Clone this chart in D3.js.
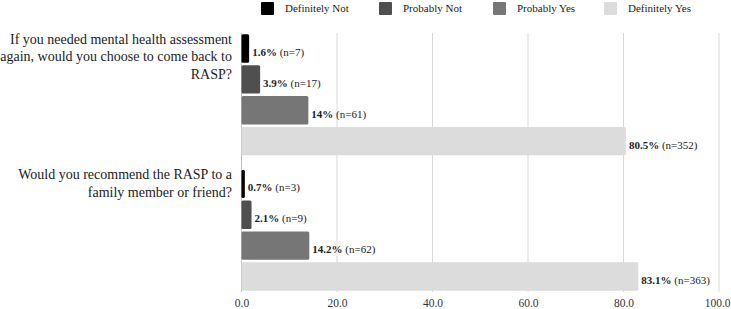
<!DOCTYPE html>
<html>
<head>
<meta charset="utf-8">
<script src="https://cdn.jsdelivr.net/npm/d3@7"></script>
<style>
  body { margin: 0; background: #fff; }
</style>
</head>
<body>
<svg id="chart"></svg>
<script>
// Data
const questions = [
    "If you needed mental health assessment again, would you choose to come back to RASP?",
    "Would you recommend the RASP to a family member or friend?"
];
const questionLines = [
    ["If you needed mental health assessment", "again, would you choose to come back to", "RASP?"],
    ["Would you recommend the RASP to a", "family member or friend?"]
];
const responses = ["Definitely Not", "Probably Not", "Probably Yes", "Definitely Yes"];
const percents = [
    [1.6, 3.9, 14, 80.5],
    [0.7, 2.1, 14.2, 83.1]
];
const counts = [
    [7, 17, 61, 352],
    [3, 9, 62, 363]
];
const xTicks = [0, 20, 40, 60, 80, 100];

const colors = ["#000000", "#4f4f4f", "#767676", "#dcdcdc"];
const serif = "Liberation Serif";

// Setting up the svg
const width = 731;
const height = 309;
const margin = { top: 33, left: 241.5, right: 12, bottom: 17 };

const svg = d3.select("#chart")
    .attr("width", width)
    .attr("height", height)
    .attr("font-family", serif);

// Scales
const xScale = d3.scaleLinear()
    .domain([0, 100])
    .range([margin.left, 719]);

const yGroup = d3.scaleBand()
    .domain(questions)
    .range([margin.top, height - margin.bottom])
    .paddingInner(0.106)
    .paddingOuter(0.01);

const yInner = d3.scaleBand()
    .domain(responses)
    .range([0, yGroup.bandwidth()])
    .paddingInner(0.08);

// Grid lines
svg.append("g")
    .selectAll("line")
    .data(xTicks.slice(1))
    .join("line")
    .attr("x1", d => xScale(d))
    .attr("x2", d => xScale(d))
    .attr("y1", margin.top)
    .attr("y2", height - margin.bottom)
    .attr("stroke", "#d9d9d9")
    .attr("stroke-width", 1);

// Axis line at zero
svg.append("line")
    .attr("x1", xScale(0))
    .attr("x2", xScale(0))
    .attr("y1", margin.top)
    .attr("y2", height - margin.bottom)
    .attr("stroke", "#bfbfbf")
    .attr("stroke-width", 1);

// X tick labels
const xAxis = d3.axisBottom(xScale)
    .tickValues(xTicks)
    .tickFormat(d3.format(".1f"))
    .tickSize(0)
    .tickPadding(0);

const xAxisG = svg.append("g")
    .attr("transform", `translate(0,${height - margin.bottom + 7})`)
    .call(xAxis)
    .attr("font-family", serif)
    .attr("font-size", 11.5);
xAxisG.select(".domain").remove();
xAxisG.selectAll("text")
    .attr("fill", "#333");
// keep the last label inside the picture, as in the original
xAxisG.selectAll("text")
    .filter(d => d === 100)
    .attr("text-anchor", "end")
    .attr("dx", 731 - xScale(100) - 1);

// Bars and labels
questions.forEach((q, qi) => {
    const g = svg.append("g")
        .attr("transform", `translate(0,${yGroup(q)})`);

    const rows = responses.map((r, ri) => ({
        response: r,
        value: percents[qi][ri],
        n: counts[qi][ri],
        color: colors[ri]
    }));

    g.selectAll("rect")
        .data(rows)
        .join("rect")
        .attr("x", xScale(0))
        .attr("y", d => yInner(d.response))
        .attr("width", d => xScale(d.value) - xScale(0))
        .attr("height", yInner.bandwidth())
        .attr("rx", 1.5)
        .attr("fill", d => d.color);

    const labels = g.selectAll("text.value")
        .data(rows)
        .join("text")
        .attr("class", "value")
        .attr("x", d => xScale(d.value) + 3)
        .attr("y", d => yInner(d.response) + yInner.bandwidth() / 2 + 7.5)
        .attr("font-family", serif)
        .attr("font-size", 11)
        .attr("fill", "#222");
    labels.append("tspan")
        .attr("font-weight", "bold")
        .text(d => d.value + "%");
    labels.append("tspan")
        .text(d => " (n=" + d.n + ")");

    // Question label
    const qText = svg.append("text")
        .attr("text-anchor", "end")
        .attr("x", 232)
        .attr("y", yGroup(q) + 9.5)
        .attr("font-family", serif)
        .attr("font-size", 14)
        .attr("fill", "#222");
    questionLines[qi].forEach((line, li) => {
        qText.append("tspan")
            .attr("x", 232)
            .attr("dy", li === 0 ? 0 : 17.5)
            .text(line);
    });
});

// Legend
const legendX = [261, 379, 493, 604];
const legend = svg.append("g").attr("class", "legend");
responses.forEach((r, i) => {
    legend.append("rect")
        .attr("x", legendX[i])
        .attr("y", 2)
        .attr("width", 13)
        .attr("height", 13)
        .attr("rx", 1)
        .attr("fill", colors[i]);
    legend.append("text")
        .attr("x", legendX[i] + 24)
        .attr("y", 12)
        .attr("font-family", serif)
        .attr("font-size", 11)
        .attr("fill", "#222")
        .text(r);
});
</script>
</body>
</html>
